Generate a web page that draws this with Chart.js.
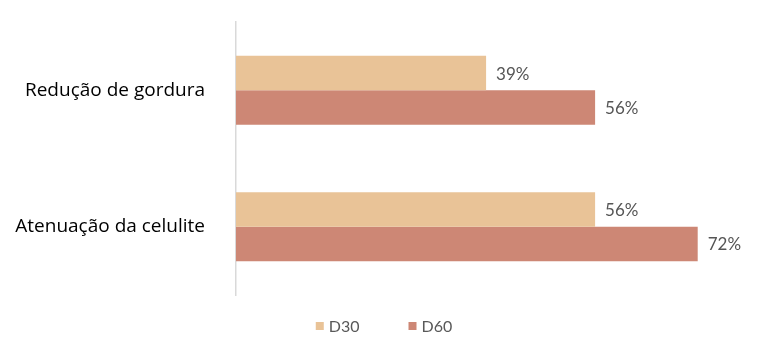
<!DOCTYPE html>
<html>
<head>
<meta charset="utf-8">
<script src="https://cdn.jsdelivr.net/npm/chart.js@4/dist/chart.umd.min.js"></script>
<style>
  html, body { margin: 0; padding: 0; background: #ffffff; }
  #wrap { width: 760px; height: 356px; position: relative; }
</style>
</head>
<body>
<div id="wrap"><canvas id="c" width="760" height="356"></canvas></div>
<script>
const categories = ["Redução de gordura", "Atenuação da celulite"];
const seriesNames = ["D30", "D60"];
const d30Values = [39, 56];
const d60Values = [56, 72];
const seriesColors = ["#E9C397", "#CD8775"];

const valueLabels = {
  id: 'valueLabels',
  afterDatasetsDraw(chart) {
    const ctx = chart.ctx;
    ctx.save();
    ctx.font = '17px Lato';
    ctx.fillStyle = '#555555';
    ctx.textAlign = 'left';
    ctx.textBaseline = 'middle';
    chart.data.datasets.forEach((ds, di) => {
      chart.getDatasetMeta(di).data.forEach((bar, i) => {
        ctx.fillText(ds.data[i] + '%', bar.x + 10, bar.y + 1);
      });
    });
    ctx.restore();
  }
};

const bottomLegend = {
  id: 'bottomLegend',
  afterDraw(chart) {
    const ctx = chart.ctx;
    ctx.save();
    ctx.font = '16px Lato';
    ctx.textBaseline = 'middle';
    ctx.textAlign = 'left';
    const box = 8, gapText = 5, gapItem = 49;
    const items = chart.data.datasets.map(ds => ({
      text: ds.label, color: ds.backgroundColor,
      w: box + gapText + ctx.measureText(ds.label).width
    }));
    const total = items.reduce((s, it) => s + it.w, 0) + gapItem * (items.length - 1);
    let x = chart.width / 2 + 4 - total / 2;
    const y = chart.chartArea.bottom + 31;
    items.forEach(it => {
      ctx.fillStyle = it.color;
      ctx.fillRect(x, y - box / 2, box, box);
      ctx.fillStyle = '#595959';
      ctx.fillText(it.text, x + box + gapText, y + 1);
      x += it.w + gapItem;
    });
    ctx.restore();
  }
};

new Chart(document.getElementById('c'), {
  type: 'bar',
  data: {
    labels: categories,
    datasets: [
      { label: seriesNames[0], data: d30Values, backgroundColor: seriesColors[0] },
      { label: seriesNames[1], data: d60Values, backgroundColor: seriesColors[1] }
    ]
  },
  options: {
    indexAxis: 'y',
    responsive: false,
    animation: false,
    layout: { padding: { top: 22, right: 11, bottom: 61, left: 0 } },
    datasets: { bar: { categoryPercentage: 0.505, barPercentage: 1.0 } },
    plugins: { legend: { display: false }, tooltip: { enabled: false } },
    scales: {
      x: { display: false, min: 0, max: 80 },
      y: {
        afterFit(scale) { scale.width = 236; },
        grid: { display: true, drawOnChartArea: false, drawTicks: true, tickLength: 31, color: 'rgba(0,0,0,0)' },
        border: { display: true, color: '#d9d9d9', width: 1.5 },
        ticks: { color: '#000000', font: { family: 'Open Sans', size: 19 }, padding: 0 }
      }
    }
  },
  plugins: [valueLabels, bottomLegend]
});
</script>
</body>
</html>
